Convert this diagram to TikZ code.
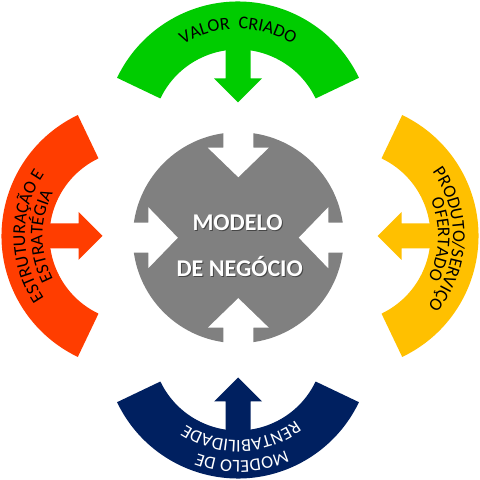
\documentclass[tikz,border=0pt]{standalone}
\usepackage{fontspec}
\setmainfont{Carlito}
\usetikzlibrary{decorations.text}
\definecolor{cgreen}{HTML}{00CC00}
\definecolor{cyellow}{HTML}{FFC000}
\definecolor{cred}{HTML}{FF3D00}
\definecolor{cnavy}{HTML}{002060}
\definecolor{cgray}{HTML}{808080}
\newcommand\drawseg[3]{%
  \begin{scope}[shift={#1},rotate=#2]
    \fill[#3] (25.5:134) arc[start angle=25.5,end angle=154.5,radius=134]
      -- (154.5:86) arc[start angle=154.5,end angle=25.5,radius=86] -- cycle;
    \fill[#3] (-12.5,100) -- (-12.5,57) -- (-24,57) -- (0,33) -- (24,57)
      -- (12.5,57) -- (12.5,100) -- cycle;
  \end{scope}}
\newcommand\notch[1]{%
  \begin{scope}[shift={(238.3,242.3)},rotate=#1]
    \fill[white] (-15,118) -- (-15,90) -- (-30.5,90) -- (0,60.5) -- (30.5,90)
      -- (15,90) -- (15,118) -- cycle;
  \end{scope}}
\tikzset{
  arctext/.style={decorate,decoration={text along path,text align=center,text color=#1}},
  centertext/.style={text=white,font=\bfseries\fontsize{24}{28}\selectfont,anchor=base,inner sep=0pt},
  shadowtext/.style={text=black,opacity=0.45,font=\bfseries\fontsize{24}{28}\selectfont,anchor=base,inner sep=0pt}
}
\begin{document}
\begin{tikzpicture}[x=1pt,y=1pt]
\useasboundingbox (0,0) rectangle (480,480);
\fill[white] (0,0) rectangle (480,480);
% outer segments
\drawseg{(238,344.5)}{0}{cgreen}
\drawseg{(344.5,244)}{-90}{cyellow}
\drawseg{(238,135.5)}{180}{cnavy}
\drawseg{(135.5,244)}{90}{cred}
% center circle with notches
\fill[cgray] (238.3,242.3) circle[radius=105.5];
\notch{0}
\notch{90}
\notch{180}
\notch{270}
% center text
\node[shadowtext] (m1s) at (238.5,248) {MODELO};
\node[shadowtext] (m2s) at (240.7,202) {DE NEGÓCIO};
\node[centertext] (m1) at (237.5,249) {MODELO};
\node[centertext] (m2) at (239.7,203) {DE NEGÓCIO};
% curved texts
\begin{scope}[shift={(238,344.5)}]
  \path[arctext=black,decoration={text={|\fontsize{18}{20}\selectfont|VALOR\ \ CRIADO}}]
    (150:106.5) arc[start angle=150,end angle=30,radius=106.5];
\end{scope}
\begin{scope}[shift={(344.5,244)}]
  \path[arctext=black,decoration={text={|\fontsize{18}{20}\selectfont|PRODUTO/SERVIÇO}}]
    (58:108.5) arc[start angle=58,end angle=-62,radius=108.5];
  \path[arctext=black,decoration={text={|\fontsize{18}{20}\selectfont|OFERTADO}}]
    (58:93.5) arc[start angle=58,end angle=-62,radius=93.5];
\end{scope}
\begin{scope}[shift={(238,135.5)}]
  \path[arctext=white,decoration={text={|\fontsize{18}{20}\selectfont|MODELO DE}}]
    (-28:116) arc[start angle=-28,end angle=-148,radius=116];
  \path[arctext=white,decoration={text={|\fontsize{18}{20}\selectfont|RENTABILIDADE}}]
    (-28:95.5) arc[start angle=-28,end angle=-148,radius=95.5];
\end{scope}
\begin{scope}[shift={(135.5,244)}]
  \path[arctext=black,decoration={text={|\fontsize{18}{20}\selectfont|ESTRUTURAÇÃO E}}]
    (240:110.5) arc[start angle=240,end angle=120,radius=110.5];
  \path[arctext=black,decoration={text={|\fontsize{18}{20}\selectfont|ESTRATÉGIA}}]
    (240:93) arc[start angle=240,end angle=120,radius=93];
\end{scope}
\end{tikzpicture}
\end{document}
